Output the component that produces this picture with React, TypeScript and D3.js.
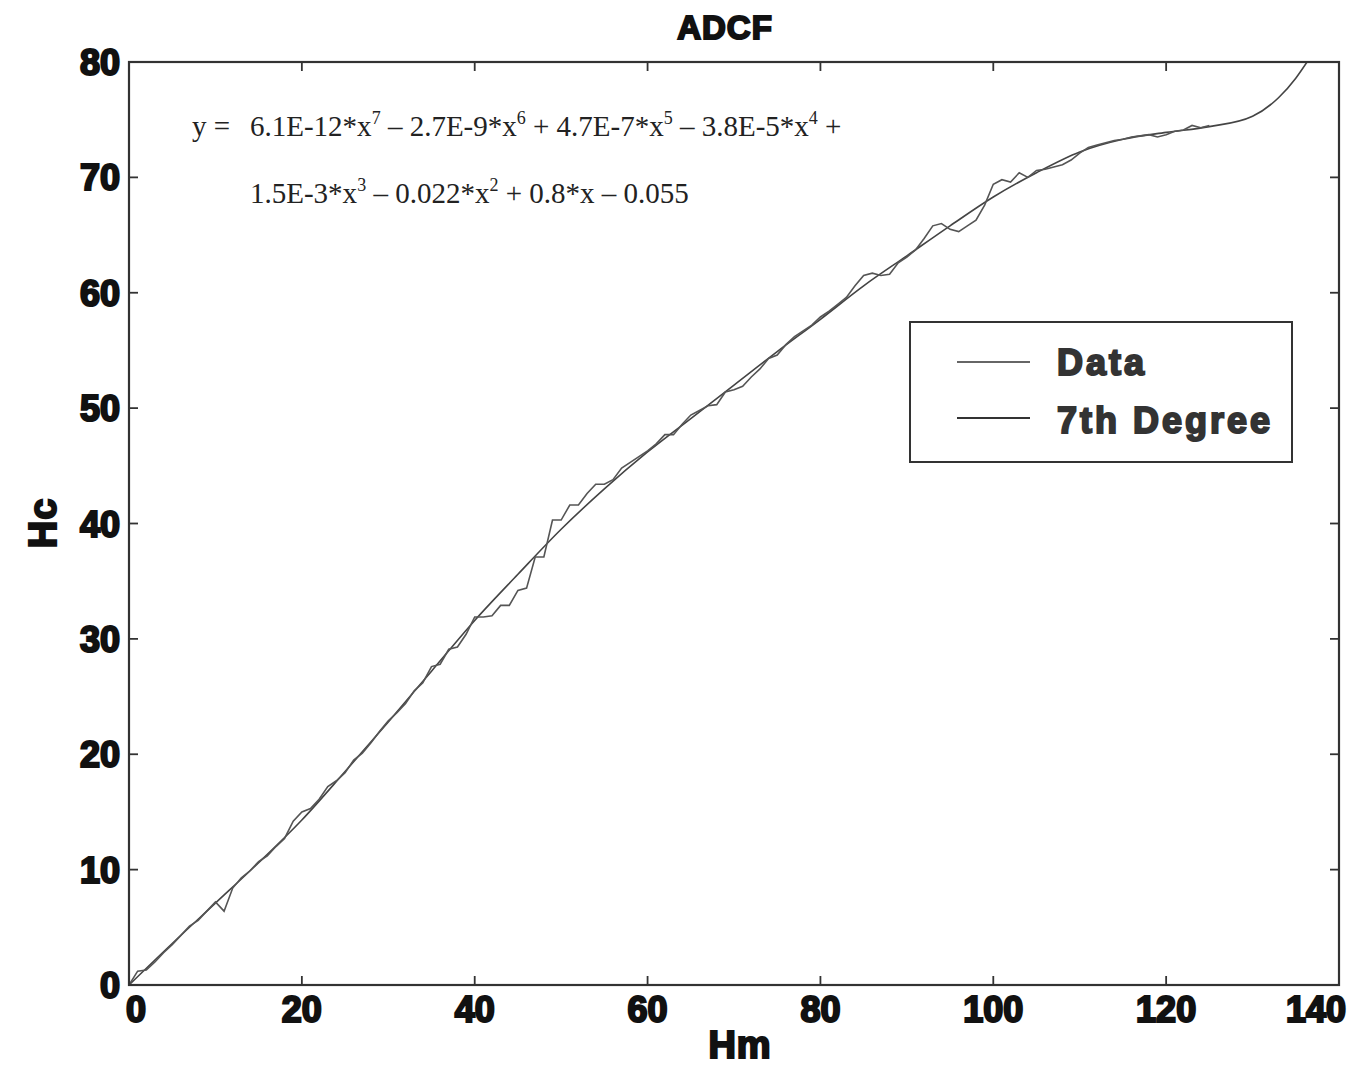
import React from "react";
import * as d3 from "d3";

// Measured Hc, one reading per unit of Hm (index = Hm)
const dataHc = [
  0, 1.2, 1.3, 2.0, 2.8, 3.5, 4.3, 5.1, 5.6, 6.4,
  7.2, 6.4, 8.4, 9.3, 9.9, 10.7, 11.2, 12.0, 12.7, 14.2,
  15.0, 15.3, 16.1, 17.2, 17.7, 18.4, 19.5, 20.1, 21.0, 22.0,
  22.9, 23.6, 24.4, 25.5, 26.2, 27.6, 27.8, 29.1, 29.3, 30.4,
  31.9, 31.9, 32.0, 32.9, 32.9, 34.2, 34.4, 37.1, 37.1, 40.3,
  40.3, 41.6, 41.6, 42.6, 43.4, 43.4, 43.8, 44.8, 45.3, 45.8,
  46.3, 46.9, 47.7, 47.7, 48.6, 49.4, 49.8, 50.2, 50.3, 51.4,
  51.6, 51.9, 52.7, 53.4, 54.3, 54.6, 55.5, 56.2, 56.7, 57.2,
  57.9, 58.4, 59.0, 59.6, 60.6, 61.5, 61.7, 61.5, 61.6, 62.6,
  63.1, 63.7, 64.7, 65.8, 66.0, 65.5, 65.3, 65.8, 66.3, 67.6,
  69.4, 69.8, 69.6, 70.4, 70.0, 70.6, 70.7, 70.9, 71.1, 71.5,
  72.1, 72.6, 72.8, 73.0, 73.2, 73.3, 73.5, 73.6, 73.7, 73.5,
  73.7, 74.0, 74.1, 74.5, 74.3, 74.5,
];

// 7th degree fit
const fitHm = [0, 5, 10, 15, 20, 25, 30, 35, 40, 45, 50, 55, 60, 65, 70, 75, 80, 85, 90, 95, 100, 105, 110, 115, 120, 125, 130, 133, 135, 136.3];
const fitHc = [0, 3.6, 7.1, 10.6, 14.3, 18.5, 22.8, 27.2, 31.6, 35.6, 39.5, 43.0, 46.2, 49.1, 52.0, 54.9, 57.7, 60.6, 63.2, 65.8, 68.3, 70.4, 72.2, 73.3, 73.9, 74.4, 75.3, 76.9, 78.6, 80];

const xTicks = [0, 20, 40, 60, 80, 100, 120, 140];
const yTicks = [0, 10, 20, 30, 40, 50, 60, 70, 80];
const legendItems = ["Data", "7th Degree"];

const W = 1369;
const H = 1067;
const left = 129, right = 1339, top = 62, bottom = 985;
const heavy = "'Liberation Sans', Arial, sans-serif";
const serif = "'Liberation Serif', 'Times New Roman', serif";

const Sup = ({ t }: { t: string }) => (
  <>
    <tspan dy={-12} fontSize={18}>{t}</tspan>
    <tspan dy={12}> </tspan>
  </>
);

export default function App() {
  const x = d3.scaleLinear().domain([0, 140]).range([left, right]);
  const y = d3.scaleLinear().domain([0, 80]).range([bottom, top]);

  const dataLine = d3.line<number>()
    .x((_, i) => x(i))
    .y((d) => y(d));
  const fitLine = d3.line<number>()
    .x((_, i) => x(fitHm[i]))
    .y((d) => y(d))
    .curve(d3.curveMonotoneX);

  const tick = 9;
  const bold = { fontFamily: heavy, fontWeight: "bold" as const, fill: "#111", stroke: "#111" };

  return (
    <svg width={W} height={H} style={{ position: "absolute", left: 0, top: 0, background: "#fff" }}>
      <defs>
        <clipPath id="plot">
          <rect x={left} y={top} width={right - left} height={bottom - top} />
        </clipPath>
      </defs>

      {/* title and axis labels */}
      <text x={725} y={39} textAnchor="middle" {...bold} fontSize={33} strokeWidth={2} letterSpacing={1}>ADCF</text>
      <text x={740} y={1058} textAnchor="middle" {...bold} fontSize={38} strokeWidth={2.2} letterSpacing={1}>Hm</text>
      <text transform="translate(56,523) rotate(-90)" textAnchor="middle" {...bold} fontSize={38} strokeWidth={2.2} letterSpacing={1}>Hc</text>

      {/* curves */}
      <g clipPath="url(#plot)" fill="none">
        <path d={fitLine(fitHc) || ""} stroke="#444" strokeWidth={1.6} />
        <path d={dataLine(dataHc) || ""} stroke="#555" strokeWidth={1.6} />
      </g>

      {/* frame */}
      <rect x={left} y={top} width={right - left} height={bottom - top} fill="none" stroke="#333" strokeWidth={2.2} />

      {/* x ticks */}
      {xTicks.map((t) => (
        <g key={"x" + t}>
          <line x1={x(t)} x2={x(t)} y1={bottom} y2={bottom - tick} stroke="#333" strokeWidth={1.8} />
          <line x1={x(t)} x2={x(t)} y1={top} y2={top + tick} stroke="#333" strokeWidth={1.8} />
          <text x={Math.max(136, Math.min(x(t), 1316))} y={1022} textAnchor="middle" {...bold} fontSize={36} strokeWidth={2.2}>{t}</text>
        </g>
      ))}

      {/* y ticks */}
      {yTicks.map((t) => (
        <g key={"y" + t}>
          <line x1={left} x2={left + tick} y1={y(t)} y2={y(t)} stroke="#333" strokeWidth={1.8} />
          <line x1={right} x2={right - tick} y1={y(t)} y2={y(t)} stroke="#333" strokeWidth={1.8} />
          <text x={120} y={y(t) + 13} textAnchor="end" {...bold} fontSize={36} strokeWidth={2.2}>{t}</text>
        </g>
      ))}

      {/* equation */}
      <g fontFamily={serif} fontSize={29} fill="#222">
        <text x={192} y={136}>y =</text>
        <text x={250} y={136}>
          6.1E-12*x<Sup t="7" />– 2.7E-9*x<Sup t="6" />+ 4.7E-7*x<Sup t="5" />– 3.8E-5*x<Sup t="4" />+
        </text>
        <text x={250} y={203}>
          1.5E-3*x<Sup t="3" />– 0.022*x<Sup t="2" />+ 0.8*x – 0.055
        </text>
      </g>

      {/* legend */}
      <g>
        <rect x={910} y={322} width={382} height={140} fill="#fff" stroke="#333" strokeWidth={2} />
        {legendItems.map((name, i) => (
          <g key={name}>
            <line x1={957} x2={1030} y1={362 + i * 56} y2={362 + i * 56} stroke={i === 0 ? "#666" : "#333"} strokeWidth={1.8} />
            <text x={1057} y={375 + i * 58} fontFamily={heavy} fontWeight="bold" fontSize={36} stroke="#333" strokeWidth={2} fill="#333" letterSpacing={3}>{name}</text>
          </g>
        ))}
      </g>
    </svg>
  );
}
